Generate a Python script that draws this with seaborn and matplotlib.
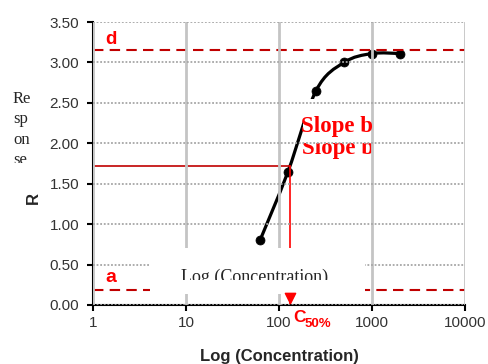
import matplotlib
matplotlib.use("Agg")
import numpy as np
import matplotlib.pyplot as plt
import seaborn as sns
from matplotlib.patches import Rectangle, PathPatch
from matplotlib.path import Path
from matplotlib.ticker import NullLocator
from matplotlib.transforms import Bbox, offset_copy

# data
conc = [62.5, 125, 250, 500, 1000, 2000]
resp = [0.80, 1.65, 2.65, 3.00, 3.11, 3.11]
a_val = 0.19
d_val = 3.15
c50 = 130
half_resp = 1.72
x_ticks = [1, 10, 100, 1000, 10000]
x_labels = ["1", "10", "100", "1000", "10000"]
y_ticks = [0.0, 0.5, 1.0, 1.5, 2.0, 2.5, 3.0, 3.5]

sns.set_style("white")
plt.rcParams["font.family"] = ["Liberation Sans", "DejaVu Sans"]

W, H = 489, 364
fig = plt.figure(figsize=(W / 100, H / 100), dpi=100)
ax = fig.add_axes([93 / W, 1 - 305 / H, (465 - 93) / W, (305 - 22) / H])


def fx(px):
    return px / W


def fy(py):
    return 1 - py / H


def smooth_path(xs, ys):
    # Excel-like smoothed line: cubic bezier through the points (in log-x space)
    p = np.column_stack([np.log10(xs), ys])
    p = np.vstack([p[0], p, p[-1]])
    verts = [p[1]]
    codes = [Path.MOVETO]
    for i in range(1, len(p) - 2):
        c1 = p[i] + (p[i + 1] - p[i - 1]) / 6
        c2 = p[i + 1] - (p[i + 2] - p[i]) / 6
        verts += [c1, c2, p[i + 1]]
        codes += [Path.CURVE4] * 3
    verts = np.array(verts)
    verts[:, 0] = 10 ** verts[:, 0]
    return Path(verts, codes)


red = "#ff0000"
dark_red = "#c00000"

ax.set_xscale("log")
ax.add_patch(PathPatch(smooth_path(conc, resp), fc="none", ec="black", lw=2.3, zorder=2))
sns.scatterplot(x=conc, y=resp, ax=ax, color="black", s=42, edgecolor="black", zorder=2)

ax.set_xlim(1, 10000)
ax.set_ylim(0, 3.5)
ax.set_xticks(x_ticks)
ax.set_xticklabels(x_labels)
ax.xaxis.set_minor_locator(NullLocator())
ax.set_yticks(y_ticks)
ax.set_yticklabels([f"{v:.2f}" for v in y_ticks])

ax.grid(axis="y", color="#a6a6a6", ls=(0, (1, 1)), lw=1.3)
ax.grid(axis="x", color="#c4c4c4", ls="-", lw=2)
ax.set_axisbelow(False)

for s in ["top", "right"]:
    ax.spines[s].set_visible(False)
for s in ["left", "bottom"]:
    ax.spines[s].set_color("black")
    ax.spines[s].set_linewidth(1.5)
ax.tick_params(bottom=True, left=True, direction="out", length=4, width=1.5,
               color="black", labelsize=11, labelcolor="#333333", pad=4)
ax.tick_params(axis="y", pad=6)

# a / d asymptotes and the c50 guide lines
ax.axhline(d_val, color=dark_red, ls=(0, (5, 3)), lw=1.5, zorder=2)
ax.axhline(a_val, color=dark_red, ls=(0, (5, 3)), lw=1.5, zorder=2)
ax.plot([1, c50], [half_resp, half_resp], color=dark_red, lw=1.2, zorder=2)
ax.plot([c50, c50], [half_resp, 0], color=red, lw=1.2, zorder=2)
ax.scatter([c50], [0], marker="v", s=55, color=red, clip_on=False, zorder=4,
           transform=offset_copy(ax.transData, fig=fig, y=7, units="dots"))

# white boxes over the plot
box1 = Rectangle((fx(150), fy(294)), fx(365) - fx(150), fy(248) - fy(294),
                 transform=fig.transFigure, fc="white", ec="none", zorder=3, clip_on=False)
ax.add_patch(box1)
box2 = Rectangle((fx(303), fy(143)), fx(382) - fx(303), fy(99) - fy(143),
                 transform=fig.transFigure, fc="white", ec="none", zorder=2.2, clip_on=False)
ax.add_patch(box2)

# slope labels
ax.text(fx(302), fy(154), "Slope b", transform=fig.transFigure, color=red,
        family="Liberation Serif", fontweight="bold", fontsize=16.5, va="baseline",
        zorder=2.1, clip_on=False)
fig.text(fx(301), fy(132), "Slope b", color=red, family="Liberation Serif",
         fontweight="bold", fontsize=16.5, va="baseline")

t = fig.text(fx(181), fy(282), "Log (Concentration)", family="Liberation Serif",
             fontsize=13, va="baseline", clip_on=True)
t.set_clip_box(Bbox([[150, H - 280], [365, H - 248]]))

t = fig.text(fx(13), fy(91), "Re\nsp\non\nse", family="Liberation Serif",
             fontsize=12, va="top", ha="left", linespacing=1.36, clip_on=True)
t.set_clip_box(Bbox([[0, H - 163], [60, H]]))

fig.text(fx(105), fy(44), "d", color=red, fontsize=13.5, fontweight="bold", va="baseline")
fig.text(fx(105), fy(282), "a", color=red, fontsize=14, fontweight="bold", va="baseline")
fig.text(fx(293), fy(322), "C", color=red, fontsize=12.5, fontweight="bold", va="baseline")
fig.text(fx(305), fy(327), "50%", color=red, fontsize=9.5, fontweight="bold", va="baseline")

fig.text(fx(33), fy(198), "R", rotation=90, fontsize=12, fontweight="bold",
         ha="center", va="center")
ax.set_xlabel("Log (Concentration)", fontsize=12, fontweight="bold", labelpad=13.5)

fig.savefig("out.png", dpi=100)
